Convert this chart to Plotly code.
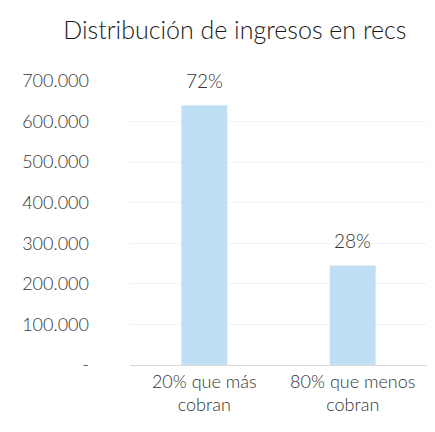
import plotly.graph_objects as go

# Data
categories = ["20% que más<br>cobran", "80% que menos<br>cobran"]
ingresos = [640000, 245000]
porcentajes = ["72%", "28%"]
tick_vals = [0, 100000, 200000, 300000, 400000, 500000, 600000, 700000]
tick_text = ["-", "100.000", "200.000", "300.000", "400.000", "500.000", "600.000", "700.000"]

font_name = "Lato"
text_color = "#333333"

fig = go.Figure()
fig.add_trace(go.Bar(
    x=categories,
    y=ingresos,
    marker_color="#BFE0F4",
    width=0.31,
))

# percentage labels above each bar
for cat, val, pct in zip(categories, ingresos, porcentajes):
    fig.add_annotation(
        x=cat, y=val, text=pct, showarrow=False,
        yanchor="middle", yshift=25,
        font=dict(family=font_name, size=19, color=text_color, weight=300),
    )

fig.update_layout(
    width=435,
    height=432,
    margin=dict(l=130, r=8, t=81, b=67, autoexpand=False),
    paper_bgcolor="white",
    plot_bgcolor="white",
    showlegend=False,
    title=dict(
        text="Distribución de ingresos en recs",
        x=0.54, xanchor="center",
        y=0.93, yanchor="middle",
        font=dict(family=font_name, size=25, color="#1a1a1a", weight=300),
    ),
    font=dict(family=font_name, color=text_color),
)

fig.update_yaxes(
    range=[0, 700000],
    tickvals=tick_vals,
    ticktext=tick_text,
    tickfont=dict(family=font_name, size=18, color=text_color, weight=300),
    showgrid=True,
    gridcolor="#F2F2F2",
    gridwidth=1,
    zeroline=False,
    showline=False,
    ticks="",
    ticklabelstandoff=40,
    automargin=False,
)

fig.update_xaxes(
    tickfont=dict(family=font_name, size=18, color=text_color, weight=300),
    showline=True,
    linecolor="#D9D9D9",
    linewidth=1,
    ticks="",
    showgrid=False,
    automargin=False,
)

fig.write_html("out.html", config={"displayModeBar": False},
               post_script="document.body.style.margin='0';")
